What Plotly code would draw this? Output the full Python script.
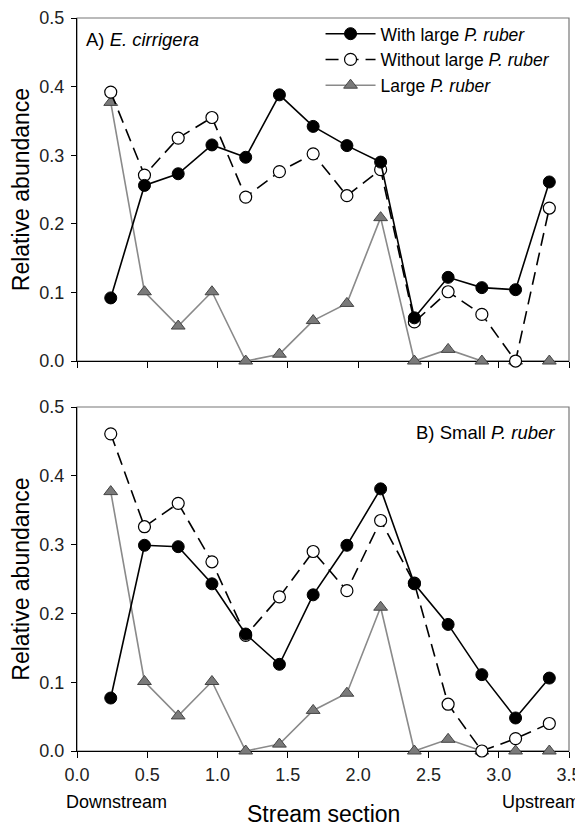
import plotly.graph_objects as go

sections = [0.24, 0.48, 0.72, 0.96, 1.20, 1.44, 1.68, 1.92, 2.16, 2.40, 2.64, 2.88, 3.12, 3.36]

# Panel A: E. cirrigera
a_with = [0.092, 0.256, 0.273, 0.315, 0.297, 0.388, 0.342, 0.314, 0.290, 0.063, 0.122, 0.107, 0.104, 0.261]
a_without = [0.392, 0.271, 0.325, 0.355, 0.239, 0.276, 0.302, 0.241, 0.279, 0.057, 0.101, 0.068, 0.000, 0.223]

# Panel B: small P. ruber
b_with = [0.077, 0.299, 0.297, 0.243, 0.170, 0.126, 0.227, 0.299, 0.381, 0.243, 0.184, 0.111, 0.048, 0.106]
b_without = [0.461, 0.326, 0.360, 0.275, 0.168, 0.224, 0.290, 0.233, 0.335, 0.244, 0.068, 0.000, 0.018, 0.040]

# Large P. ruber (same in both panels)
large = [0.377, 0.101, 0.051, 0.101, 0.000, 0.010, 0.059, 0.084, 0.209, 0.000, 0.017, 0.000, 0.000, 0.000]

y_ticks = [0.0, 0.1, 0.2, 0.3, 0.4, 0.5]
x_ticks = [0.0, 0.5, 1.0, 1.5, 2.0, 2.5, 3.0, 3.5]

FONT = "Liberation Sans, Arial, sans-serif"
GRAY_LINE = "#8a8a8a"
GRAY_FILL = "#7a7a7a"

fig = go.Figure()

def add_panel(xa, ya, with_v, without_v, show_legend):
    fig.add_trace(go.Scatter(
        x=sections, y=large, xaxis=xa, yaxis=ya, mode="lines+markers",
        name="Large <i>P. ruber</i>", showlegend=show_legend, legendrank=3,
        line=dict(color=GRAY_LINE, width=1.6),
        marker=dict(symbol="triangle-up", size=12, color=GRAY_FILL,
                    line=dict(color="#444444", width=1)),
        cliponaxis=False))
    fig.add_trace(go.Scatter(
        x=sections, y=without_v, xaxis=xa, yaxis=ya, mode="lines+markers",
        name="Without large <i>P. ruber</i>", showlegend=show_legend, legendrank=2,
        line=dict(color="black", width=1.6, dash="13px,7px"),
        marker=dict(symbol="circle", size=12, color="white",
                    line=dict(color="black", width=1.2)),
        cliponaxis=False))
    fig.add_trace(go.Scatter(
        x=sections, y=with_v, xaxis=xa, yaxis=ya, mode="lines+markers",
        name="With large <i>P. ruber</i>", showlegend=show_legend, legendrank=1,
        line=dict(color="black", width=1.6),
        marker=dict(symbol="circle", size=12, color="black",
                    line=dict(color="black", width=1)),
        cliponaxis=False))

add_panel("x", "y", a_with, a_without, True)
add_panel("x2", "y2", b_with, b_without, False)

axis_common = dict(
    range=[0, 3.5], tickmode="array", tickvals=x_ticks, ticktext=[f"{v:.1f}" for v in x_ticks],
    ticks="outside", ticklen=6, tickwidth=1, tickcolor="black",
    showline=True, linecolor="black", linewidth=1.2, showgrid=False, zeroline=False,
    layer="below traces", automargin=False, ticklabelstandoff=1,
    tickfont=dict(family=FONT, size=18, color="#222222"),
)
yaxis_common = dict(
    range=[0, 0.5], tickmode="array", tickvals=y_ticks, ticktext=[f"{v:.1f}" for v in y_ticks],
    ticks="outside", ticklen=5, tickwidth=1, tickcolor="black",
    showline=True, linecolor="black", linewidth=1.2, showgrid=False, zeroline=False,
    layer="below traces", automargin=False, ticklabelstandoff=3,
    tickfont=dict(family=FONT, size=18, color="#222222"),
    title=dict(text="Relative abundance", font=dict(family=FONT, size=23, color="black"), standoff=20),
)

top_dom = [0.532, 1.0]
bot_dom = [0.0, 0.4693]

# page body has an 8px default margin; figure sized to fit the remaining window
fig.update_layout(
    width=575, height=818,
    margin=dict(l=69, r=14, t=10, b=75, autoexpand=False),
    paper_bgcolor="white", plot_bgcolor="white",
    showlegend=True,
    xaxis=dict(axis_common, domain=[0, 1], anchor="y", showticklabels=False),
    yaxis=dict(yaxis_common, domain=top_dom, anchor="x"),
    xaxis2=dict(axis_common, domain=[0, 1], anchor="y2"),
    yaxis2=dict(yaxis_common, domain=bot_dom, anchor="x2"),
    legend=dict(x=0.495, y=1.003, xanchor="left", yanchor="top",
                bgcolor="rgba(0,0,0,0)", borderwidth=0,
                font=dict(family=FONT, size=17.5, color="black"),
                traceorder="normal", itemwidth=50, tracegroupgap=0),
    font=dict(family=FONT),
)

# gray frame (top/right) around each panel
for xr, yr in (("x domain", "y domain"), ("x2 domain", "y2 domain")):
    fig.add_shape(type="rect", xref=xr, yref=yr, x0=0, x1=1, y0=0, y1=1,
                  line=dict(color="#777777", width=1.2), layer="below")

fig.add_annotation(xref="x domain", yref="y domain", x=0.014, y=0.936, xanchor="left", yanchor="middle",
                   text="A) <i>E. cirrigera</i>", showarrow=False,
                   font=dict(family=FONT, size=18.5, color="black"))
fig.add_annotation(xref="x2 domain", yref="y2 domain", x=0.976, y=0.927, xanchor="right", yanchor="middle",
                   text="B) Small <i>P. ruber</i>", showarrow=False,
                   font=dict(family=FONT, size=18.5, color="black"))
fig.add_annotation(xref="paper", yref="paper", x=0.5, y=-0.086, xanchor="center", yanchor="middle",
                   text="Stream section", showarrow=False,
                   font=dict(family=FONT, size=23, color="black"))
fig.add_annotation(xref="paper", yref="paper", x=-0.026, y=-0.0696, xanchor="left", yanchor="middle",
                   text="Downstream", showarrow=False,
                   font=dict(family=FONT, size=18, color="black"))
fig.add_annotation(xref="paper", yref="paper", x=1.026, y=-0.0696, xanchor="right", yanchor="middle",
                   text="Upstream", showarrow=False,
                   font=dict(family=FONT, size=18, color="black"))

fig.write_html("out.html")
